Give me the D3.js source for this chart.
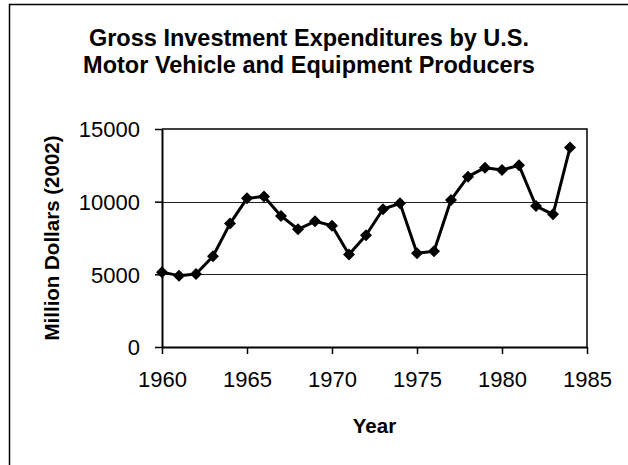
<!DOCTYPE html>
<html>
  <head>
    <meta charset="utf-8">
    <title>Gross Investment Expenditures</title>
    <style>
      body {
        margin: 0;
        background: #fff;
        font-family: Arial, 'Liberation Sans', sans-serif;
      }
      .tick text {
        font-size: 22px;
        fill: #000;
      }
      .title {
        font-size: 23.5px;
        font-weight: bold;
      }
      .axis-title {
        font-size: 20.5px;
        font-weight: bold;
      }
    </style>
  </head>
  <body>
    <svg width="628" height="465"></svg>
    <script src="https://d3js.org/d3.v7.min.js"></script>
    <script>
      const years = [
        1960, 1961, 1962, 1963, 1964, 1965, 1966, 1967, 1968, 1969, 1970, 1971,
        1972, 1973, 1974, 1975, 1976, 1977, 1978, 1979, 1980, 1981, 1982, 1983, 1984
      ];
      const spending = [
        5150, 4910, 5020, 6240, 8490, 10230, 10350, 9020, 8100, 8650, 8350, 6370,
        7690, 9480, 9890, 6450, 6590, 10120, 11720, 12340, 12180, 12500, 9700, 9130, 13720
      ];
      const xTicks = [1960, 1965, 1970, 1975, 1980, 1985];
      const yTicks = [0, 5000, 10000, 15000];
      const titleLines = [
        'Gross Investment Expenditures by U.S.',
        'Motor Vehicle and Equipment Producers'
      ];

      const svg = d3.select('svg');
      const plot = {left: 162, right: 587, top: 129, bottom: 347};

      const x = d3.scaleLinear().domain([1960, 1985]).range([plot.left, plot.right]);
      const y = d3.scaleLinear().domain([0, 15000]).range([plot.bottom, plot.top]);

      // outer chart frame (cut off at right and bottom)
      svg.append('path')
        .attr('d', 'M9.5,470 V4.5 H640')
        .attr('fill', 'none')
        .attr('stroke', '#000')
        .attr('stroke-width', 1.5);

      // title
      svg.append('text')
        .attr('class', 'title')
        .attr('text-anchor', 'middle')
        .selectAll('tspan')
        .data(titleLines)
        .enter().append('tspan')
          .attr('x', 309)
          .attr('y', (d, i) => 46 + i * 27)
          .text(d => d);

      // gridlines
      svg.append('g')
        .selectAll('line')
        .data(yTicks.slice(1, 3))
        .enter().append('line')
          .attr('x1', plot.left)
          .attr('x2', plot.right)
          .attr('y1', d => Math.round(y(d)) + 0.5)
          .attr('y2', d => Math.round(y(d)) + 0.5)
          .attr('stroke', '#222')
          .attr('stroke-width', 1);

      // plot box top/right
      svg.append('path')
        .attr('d', `M${plot.left},${plot.top} H${plot.right} V${plot.bottom}`)
        .attr('fill', 'none')
        .attr('stroke', '#000')
        .attr('stroke-width', 1.5);

      const xAxis = d3.axisBottom(x)
        .tickValues(xTicks)
        .tickFormat(d3.format('d'))
        .tickSizeInner(7)
        .tickSizeOuter(0)
        .tickPadding(17);

      const yAxis = d3.axisLeft(y)
        .tickValues(yTicks)
        .tickFormat(d3.format('d'))
        .tickSizeInner(7)
        .tickSizeOuter(0)
        .tickPadding(15);

      const gx = svg.append('g')
        .attr('transform', `translate(0,${plot.bottom})`)
        .call(xAxis);
      const gy = svg.append('g')
        .attr('transform', `translate(${plot.left},0)`)
        .call(yAxis);

      [gx, gy].forEach(g => {
        g.select('.domain').attr('stroke', '#000').attr('stroke-width', 2);
        g.selectAll('.tick line').attr('stroke', '#000').attr('stroke-width', 1.5);
        g.selectAll('.tick text').attr('font-family', null).attr('font-size', null);
      });
      gy.selectAll('.tick text').attr('dy', '0.36em');

      // axis titles
      svg.append('text')
        .attr('class', 'axis-title')
        .attr('text-anchor', 'middle')
        .attr('x', (plot.left + plot.right) / 2)
        .attr('y', 433)
        .text('Year');

      svg.append('text')
        .attr('class', 'axis-title')
        .attr('text-anchor', 'middle')
        .attr('transform', 'translate(59,238) rotate(-90)')
        .text('Million Dollars (2002)');

      // series
      const data = years.map((yr, i) => ({year: yr, value: spending[i]}));

      svg.append('path')
        .datum(data)
        .attr('fill', 'none')
        .attr('stroke', '#000')
        .attr('stroke-width', 3)
        .attr('stroke-linejoin', 'round')
        .attr('d', d3.line().x(d => x(d.year)).y(d => y(d.value)));

      svg.append('g')
        .selectAll('path')
        .data(data)
        .enter().append('path')
          .attr('transform', d => `translate(${x(d.year)},${y(d.value)})`)
          .attr('d', 'M0,-6 L6,0 L0,6 L-6,0 Z')
          .attr('fill', '#000');
    </script>
  </body>
</html>
